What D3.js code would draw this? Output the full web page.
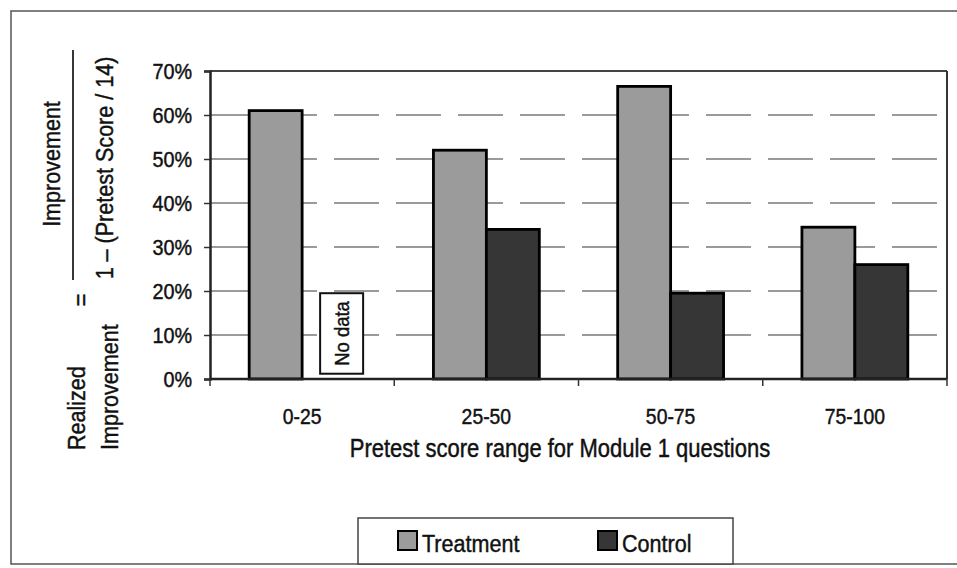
<!DOCTYPE html>
<html>
<head>
<meta charset="utf-8">
<script src="https://cdn.jsdelivr.net/npm/d3@7"></script>
<style>
  body { margin: 0; background: #fff; }
  svg { display: block; }
  text { font-family: "Liberation Sans", Arial, sans-serif; fill: #111; stroke: #111; stroke-width: 0.45px; }
  .grid-line { stroke: #7a7a7a; stroke-width: 1.5; stroke-dasharray: 45,17; }
</style>
</head>
<body>
<svg id="plotarea"></svg>
<script>
// chart data
const categories = ['0-25', '25-50', '50-75', '75-100'];
const series = ['Treatment', 'Control'];
const treatment = [0.61, 0.52, 0.665, 0.345];
const control = [null, 0.34, 0.195, 0.26];   // no control data for 0-25
const yTicks = [0, 0.1, 0.2, 0.3, 0.4, 0.5, 0.6, 0.7];

const colors = { Treatment: '#9b9b9b', Control: '#363636' };

const W = 957, H = 568;
const margin = { top: 71, bottom: 189, left: 210, right: 10 };
const dims = {
    width: W - margin.left - margin.right,
    height: H - margin.top - margin.bottom,
};
const squeeze = 0.88;  // narrow the text a bit, the original font is condensed

const svg = d3.select('#plotarea')
    .attr('width', W)
    .attr('height', H);

// puts a text at (x, y), optionally rotated, squeezed along its reading direction
function label(parent, x, y, txt, size, anchor, rot) {
    return parent.append('text')
        .attr('transform', `translate(${x}, ${y}) rotate(${rot || 0}) scale(${squeeze}, 1)`)
        .style('text-anchor', anchor)
        .style('font-size', size + 'px')
        .text(txt);
}

// outer frame (right edge falls off the page)
svg.append('rect')
   .attr('x', 11).attr('y', 11)
   .attr('width', W + 20).attr('height', 553)
   .attr('fill', 'none')
   .attr('stroke', '#555')
   .attr('stroke-width', 1.5);

const g = svg.append('g')
    .attr('transform', `translate(${margin.left}, ${margin.top})`);

const x0 = d3.scaleBand().domain(categories).range([0, dims.width]).padding(0);
const x1 = d3.scaleBand().domain(series).range([0, x0.bandwidth()])
    .paddingInner(0).paddingOuter(0.74);
const y = d3.scaleLinear().domain([0, 0.7]).range([dims.height, 0]);

// dashed gridlines
g.selectAll('line.grid-line')
 .data(yTicks.filter(t => t > 0 && t < 0.7))
 .enter().append('line')
 .attr('class', 'grid-line')
 .attr('x1', 0).attr('x2', dims.width)
 .attr('y1', d => y(d)).attr('y2', d => y(d));

// bars
const rows = categories.map((c, i) => ({ cat: c, Treatment: treatment[i], Control: control[i] }));
const groups = g.selectAll('g.group')
    .data(rows)
    .enter().append('g')
    .attr('class', 'group')
    .attr('transform', d => `translate(${x0(d.cat)},0)`);

groups.selectAll('rect')
    .data(d => series.map(s => ({ key: s, value: d[s] })).filter(e => e.value != null))
    .enter().append('rect')
    .attr('x', d => x1(d.key))
    .attr('width', x1.bandwidth())
    .attr('y', d => y(d.value))
    .attr('height', d => y(0) - y(d.value))
    .attr('fill', d => colors[d.key])
    .attr('stroke', '#000')
    .attr('stroke-width', 2.8);

// "No data" marker in place of the missing control bar
const nd = categories[control.findIndex(v => v == null)];
const ndX = x0(nd) + x1('Control') + 18;
g.append('rect')
 .attr('x', ndX).attr('width', 43)
 .attr('y', y(0.195)).attr('height', y(0.012) - y(0.195))
 .attr('fill', '#fff')
 .attr('stroke', '#111')
 .attr('stroke-width', 2);
label(g, ndX + 29, (y(0.195) + y(0.012)) / 2, 'No data', 21, 'middle', -90);

// plot box top and right
g.append('line')
 .attr('x1', 0).attr('x2', dims.width).attr('y1', 0).attr('y2', 0)
 .attr('stroke', '#444').attr('stroke-width', 2);
g.append('line')
 .attr('x1', dims.width).attr('x2', dims.width).attr('y1', 0).attr('y2', dims.height)
 .attr('stroke', '#333').attr('stroke-width', 2);

// Y axis
const yAxis = g.append('g')
    .attr('class', 'y-axis')
    .call(d3.axisLeft(y).tickValues(yTicks).tickFormat(d3.format('.0%')).tickSize(6).tickPadding(12));
yAxis.select('.domain').attr('stroke', '#222').attr('stroke-width', 2.5);
yAxis.selectAll('.tick line').attr('stroke', '#333').attr('stroke-width', 1.5);
yAxis.selectAll('.tick text')
     .attr('x', 0)
     .attr('transform', `translate(-18, 0) scale(${squeeze}, 1)`)
     .style('font-size', '22.5px')
     .style('font-family', '"Liberation Sans", Arial, sans-serif')
     .attr('fill', '#111');

// X axis
g.append('line')
 .attr('x1', 0).attr('x2', dims.width).attr('y1', dims.height).attr('y2', dims.height)
 .attr('stroke', '#222').attr('stroke-width', 2.5);
g.selectAll('line.x-tick')
 .data(categories.map(c => x0(c)).concat([dims.width]))
 .enter().append('line')
 .attr('class', 'x-tick')
 .attr('x1', d => d).attr('x2', d => d)
 .attr('y1', dims.height).attr('y2', dims.height + 7)
 .attr('stroke', '#333').attr('stroke-width', 1.5);
categories.forEach(function(c) {
    label(g, x0(c) + x0.bandwidth() / 2, dims.height + 45, c, 22, 'middle');
});

// x axis title
label(svg, 560, 457, 'Pretest score range for Module 1 questions', 25, 'middle');

// y axis title: Realized Improvement = Improvement / (1 - (Pretest Score / 14))
label(svg, 60, 164, 'Improvement', 24.5, 'middle', -90);
label(svg, 113, 168, '1 \u2013 (Pretest Score / 14)', 24.5, 'middle', -90);
svg.append('line')
   .attr('x1', 73).attr('x2', 73).attr('y1', 50).attr('y2', 280)
   .attr('stroke', '#222').attr('stroke-width', 1.8);
label(svg, 89, 300, '=', 24.5, 'middle', -90);
label(svg, 85, 450, 'Realized', 24.5, 'start', -90);
label(svg, 118, 450, 'Improvement', 24.5, 'start', -90);

// legend
const legend = svg.append('g');
legend.append('rect')
      .attr('x', 358).attr('y', 518)
      .attr('width', 375).attr('height', 46)
      .attr('fill', '#fff')
      .attr('stroke', '#444')
      .attr('stroke-width', 1.5);
const legX = { Treatment: 398, Control: 598 };
series.forEach(function(s) {
    legend.append('rect')
          .attr('x', legX[s]).attr('y', 531)
          .attr('width', 19).attr('height', 19)
          .attr('fill', colors[s])
          .attr('stroke', '#000')
          .attr('stroke-width', 2);
    label(legend, legX[s] + 24, 552, s, 24.5, 'start');
});
</script>
</body>
</html>
